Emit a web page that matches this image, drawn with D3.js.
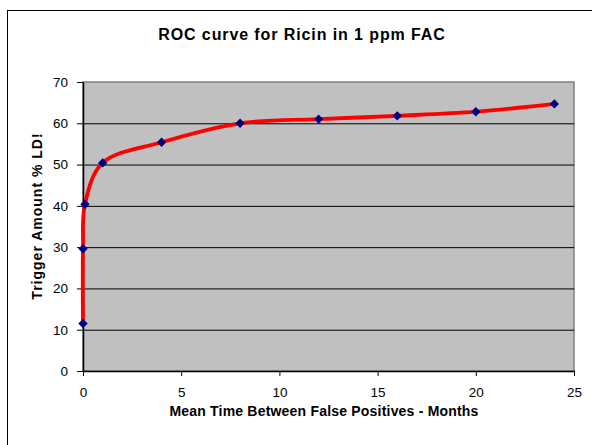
<!DOCTYPE html>
<html>
<head>
<meta charset="utf-8">
<script src="https://cdn.jsdelivr.net/npm/d3@7"></script>
<style>
  body { margin: 0; background: #fff; }
  text { font-family: "Liberation Sans", Arial, sans-serif; fill: #000; }
</style>
</head>
<body>
<svg width="592" height="445"></svg>
<script>
// data
const months = [0, 0, 0.1, 1, 4, 8, 12, 16, 20, 24]
const trigger = [11.5, 29.6, 40.4, 50.4, 55.4, 60, 61, 61.8, 62.8, 64.7]
const xTicks = [0, 5, 10, 15, 20, 25]
const yTicks = [0, 10, 20, 30, 40, 50, 60, 70]

const svg = d3.select("svg")
const plot = { left: 83, right: 574, top: 82, bottom: 371 }

const x = d3.scaleLinear().domain([0, 25]).range([plot.left, plot.right])
const y = d3.scaleLinear().domain([0, 70]).range([plot.bottom, plot.top])

// outer chart frame (cut off at right/bottom like the source)
svg.append("rect")
    .attr("x", 7.5).attr("y", 10.5)
    .attr("width", 600).attr("height", 460)
    .attr("fill", "#fff").attr("stroke", "#000").attr("stroke-width", 1)

svg.append("rect")
    .attr("x", plot.left).attr("y", plot.top)
    .attr("width", plot.right - plot.left).attr("height", plot.bottom - plot.top)
    .attr("fill", "#c0c0c0").attr("stroke", "#808080").attr("stroke-width", 1.5)

// gridlines
svg.append("g")
    .selectAll("line")
    .data(yTicks.filter(d => d > 0 && d < 70))
    .enter().append("line")
    .attr("x1", plot.left).attr("x2", plot.right)
    .attr("y1", d => y(d) + 0.5).attr("y2", d => y(d) + 0.5)
    .attr("stroke", "#000").attr("stroke-width", 1)

const xAxis = svg.append("g")
    .attr("transform", `translate(0,${plot.bottom})`)
    .call(d3.axisBottom(x).tickValues(xTicks).tickSize(5).tickPadding(11).tickSizeOuter(0))
const yAxis = svg.append("g")
    .attr("transform", `translate(${plot.left},0)`)
    .call(d3.axisLeft(y).tickValues(yTicks).tickSize(6).tickPadding(9).tickSizeOuter(0))

;[xAxis, yAxis].forEach(a => {
  a.select(".domain").attr("stroke", "#000").attr("stroke-width", 1.5)
  a.selectAll(".tick line").attr("stroke", "#000").attr("stroke-width", 1)
  a.selectAll(".tick text")
      .style("font-family", "Liberation Sans, Arial, sans-serif")
      .style("font-size", "13.5px")
      .attr("fill", "#000")
})

const pts = months.map((m, i) => [m, trigger[i]])

const line = d3.line()
    .x(d => x(d[0]))
    .y(d => y(d[1]))
    .curve(d3.curveCatmullRom.alpha(0.5))

svg.append("path")
    .datum(pts)
    .attr("d", line)
    .attr("fill", "none")
    .attr("stroke", "#ff0000")
    .attr("stroke-width", 3.8)
    .attr("stroke-linejoin", "round")

svg.append("g")
    .selectAll("path")
    .data(pts)
    .enter().append("path")
    .attr("d", d3.symbol(d3.symbolDiamond2, 56))
    .attr("transform", d => `translate(${x(d[0])},${y(d[1])})`)
    .attr("fill", "#000080")

svg.append("text")
    .attr("x", 302).attr("y", 40)
    .attr("text-anchor", "middle")
    .style("font-size", "16px").style("font-weight", "bold")
    .style("letter-spacing", "0.9px")
    .text("ROC curve for Ricin in 1 ppm FAC")

svg.append("text")
    .attr("x", 324).attr("y", 416)
    .attr("text-anchor", "middle")
    .style("font-size", "14px").style("font-weight", "bold")
    .style("letter-spacing", "0.2px")
    .text("Mean Time Between False Positives - Months")

svg.append("text")
    .attr("transform", "translate(42,216) rotate(-90)")
    .attr("text-anchor", "middle")
    .style("font-size", "14px").style("font-weight", "bold")
    .style("letter-spacing", "1px")
    .text("Trigger Amount % LD!")
</script>
</body>
</html>
